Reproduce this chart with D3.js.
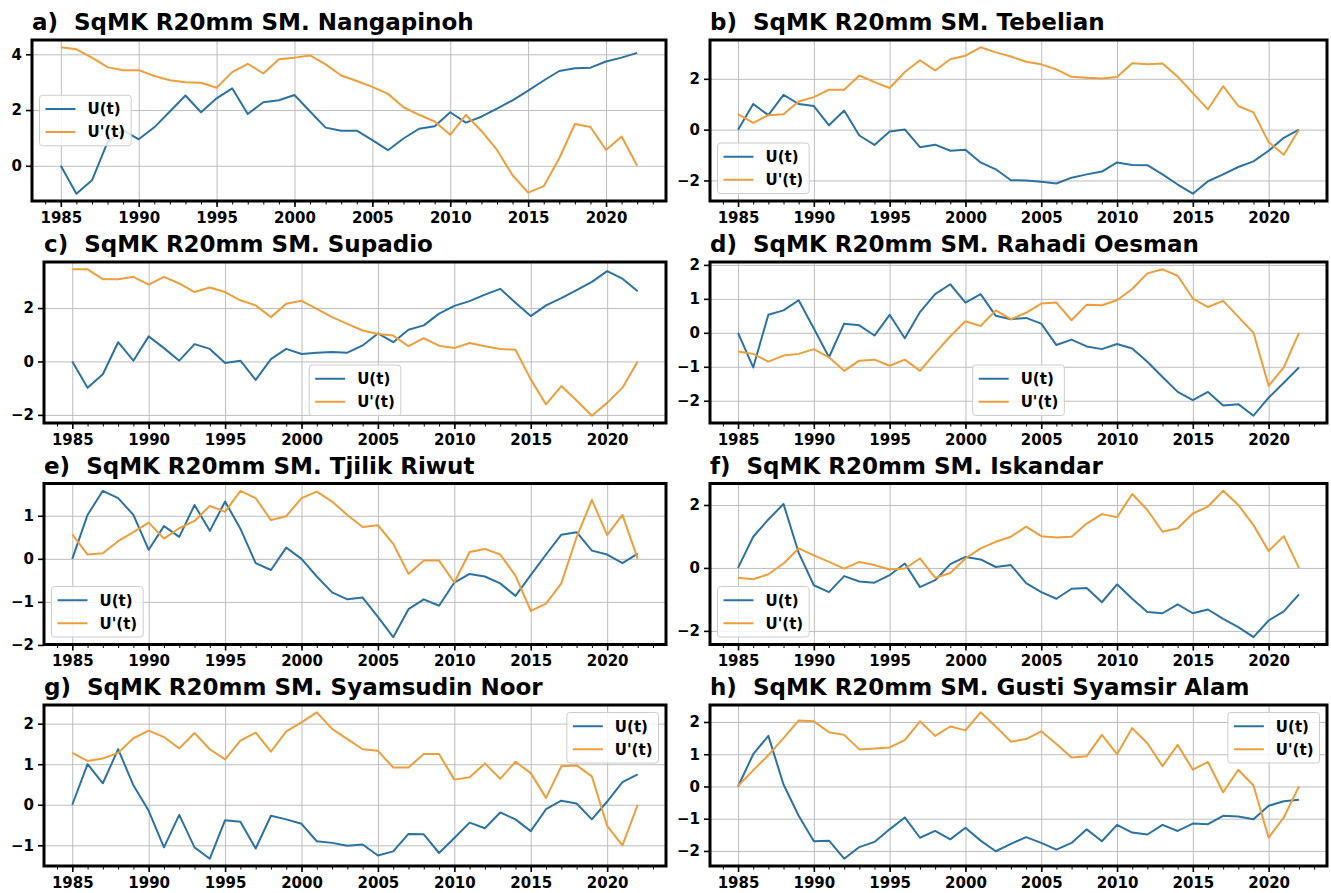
<!DOCTYPE html>
<html>
<head>
<meta charset="utf-8">
<script src="https://cdn.jsdelivr.net/npm/d3@7"></script>
<style>
  body { margin: 0; background: #ffffff; }
  svg { display: block; font-family: "DejaVu Sans", sans-serif; font-weight: bold; }
</style>
</head>
<body>
<svg id="chart" width="1331" height="893"></svg>
<script>
// ---- data -----------------------------------------------------------
const years = [1985, 1986, 1987, 1988, 1989, 1990, 1991, 1992, 1993, 1994,
               1995, 1996, 1997, 1998, 1999, 2000, 2001, 2002, 2003, 2004,
               2005, 2006, 2007, 2008, 2009, 2010, 2011, 2012, 2013, 2014,
               2015, 2016, 2017, 2018, 2019, 2020, 2021, 2022];
const xTickYears = [1985, 1990, 1995, 2000, 2005, 2010, 2015, 2020];

const panelLetters = ["a)", "b)", "c)", "d)", "e)", "f)", "g)", "h)"];
const stationNames = ["Nangapinoh", "Tebelian", "Supadio", "Rahadi Oesman",
                      "Tjilik Riwut", "Iskandar", "Syamsudin Noor", "Gusti Syamsir Alam"];
const seriesLabels = ["U(t)", "U'(t)"];

// forward statistic U(t) and backward statistic U'(t) per station
const uNangapinoh  = [0, -1.0, -0.52, 0.85, 1.28, 0.95, 1.38, 1.95, 2.52, 1.92,
                      2.42, 2.78, 1.86, 2.28, 2.35, 2.54, 1.95, 1.37, 1.26, 1.26,
                      0.92, 0.56, 0.98, 1.33, 1.42, 1.92, 1.55, 1.76, 2.05, 2.35,
                      2.7, 3.06, 3.4, 3.5, 3.52, 3.74, 3.88, 4.05];
const upNangapinoh = [4.25, 4.18, 3.88, 3.54, 3.43, 3.43, 3.22, 3.07, 3.0, 2.98,
                      2.8, 3.36, 3.66, 3.31, 3.82, 3.88, 3.96, 3.64, 3.24, 3.04,
                      2.83, 2.58, 2.1, 1.83, 1.59, 1.11, 1.83, 1.25, 0.57, -0.34,
                      -0.96, -0.73, 0.27, 1.5, 1.39, 0.57, 1.05, 0];

const uTebelian  = [0, 1.01, 0.57, 1.37, 1.01, 0.93, 0.17, 0.75, -0.23, -0.6,
                    -0.07, 0.01, -0.69, -0.59, -0.83, -0.79, -1.29, -1.56, -1.99, -2.0,
                    -2.05, -2.12, -1.89, -1.76, -1.65, -1.29, -1.39, -1.4, -1.76, -2.16,
                    -2.52, -2.03, -1.76, -1.47, -1.25, -0.83, -0.32, 0];
const upTebelian = [0.61, 0.27, 0.57, 0.61, 1.11, 1.28, 1.57, 1.57, 2.13, 1.87,
                    1.64, 2.27, 2.73, 2.33, 2.77, 2.91, 3.24, 3.04, 2.88, 2.67,
                    2.57, 2.37, 2.08, 2.04, 2.01, 2.07, 2.61, 2.57, 2.6, 2.08,
                    1.44, 0.8, 1.71, 0.93, 0.68, -0.49, -0.99, 0];

const uSupadio  = [0, -0.98, -0.48, 0.72, 0.03, 0.94, 0.5, 0.03, 0.65, 0.47,
                   -0.06, 0.03, -0.69, 0.09, 0.47, 0.28, 0.33, 0.35, 0.33, 0.6,
                   1.05, 0.72, 1.19, 1.35, 1.79, 2.08, 2.26, 2.5, 2.72, 2.2,
                   1.7, 2.1, 2.37, 2.67, 2.98, 3.38, 3.1, 2.63];
const upSupadio = [3.45, 3.45, 3.08, 3.08, 3.17, 2.88, 3.17, 2.92, 2.6, 2.77,
                   2.6, 2.29, 2.1, 1.66, 2.16, 2.27, 1.97, 1.66, 1.41, 1.16,
                   1.03, 0.97, 0.57, 0.87, 0.59, 0.5, 0.69, 0.57, 0.47, 0.44,
                   -0.67, -1.61, -0.92, -1.46, -2.03, -1.55, -0.98, 0];

const uRahadi  = [0, -1.02, 0.53, 0.66, 0.96, 0.13, -0.72, 0.27, 0.22, -0.08,
                  0.53, -0.16, 0.61, 1.14, 1.43, 0.89, 1.14, 0.5, 0.4, 0.44,
                  0.27, -0.36, -0.2, -0.4, -0.48, -0.33, -0.46, -0.85, -1.3, -1.74,
                  -1.98, -1.74, -2.14, -2.1, -2.44, -1.91, -1.47, -1.02];
const upRahadi = [-0.55, -0.62, -0.85, -0.67, -0.62, -0.48, -0.72, -1.12, -0.82, -0.79,
                  -0.97, -0.79, -1.12, -0.6, -0.1, 0.34, 0.2, 0.66, 0.4, 0.59,
                  0.86, 0.89, 0.37, 0.83, 0.81, 0.96, 1.29, 1.75, 1.87, 1.68,
                  1.01, 0.76, 0.94, 0.47, 0.0, -1.56, -1.02, 0];

const uTjilik  = [0, 1.02, 1.58, 1.41, 1.02, 0.21, 0.76, 0.51, 1.25, 0.65,
                  1.33, 0.7, -0.1, -0.26, 0.26, 0.0, -0.41, -0.78, -0.94, -0.9,
                  -1.35, -1.82, -1.17, -0.94, -1.09, -0.55, -0.35, -0.41, -0.57, -0.86,
                  -0.38, 0.1, 0.56, 0.62, 0.19, 0.1, -0.1, 0.12];
const upTjilik = [0.57, 0.1, 0.13, 0.41, 0.62, 0.84, 0.47, 0.71, 0.88, 1.23,
                  1.09, 1.58, 1.41, 0.9, 0.99, 1.41, 1.56, 1.33, 1.02, 0.74,
                  0.78, 0.35, -0.35, -0.04, -0.04, -0.55, 0.16, 0.23, 0.1, -0.39,
                  -1.21, -1.04, -0.57, 0.5, 1.37, 0.55, 1.02, 0];

const uIskandar  = [0, 0.99, 1.54, 2.03, 0.48, -0.55, -0.77, -0.26, -0.43, -0.47,
                    -0.23, 0.14, -0.61, -0.39, 0.12, 0.35, 0.27, 0.03, 0.09, -0.48,
                    -0.77, -0.98, -0.66, -0.64, -1.09, -0.52, -0.98, -1.4, -1.44, -1.16,
                    -1.44, -1.32, -1.62, -1.88, -2.2, -1.67, -1.38, -0.84];
const upIskandar = [-0.31, -0.36, -0.2, 0.14, 0.62, 0.4, 0.19, -0.02, 0.19, 0.09,
                    -0.05, -0.02, 0.3, -0.31, -0.16, 0.3, 0.62, 0.83, 0.99, 1.31,
                    1.01, 0.97, 0.99, 1.41, 1.71, 1.61, 2.35, 1.84, 1.15, 1.26,
                    1.73, 1.95, 2.45, 2.0, 1.36, 0.54, 1.01, 0];

const uSyamsudin  = [0, 1.0, 0.53, 1.37, 0.48, -0.15, -1.05, -0.25, -1.05, -1.33,
                     -0.38, -0.42, -1.08, -0.27, -0.36, -0.47, -0.9, -0.94, -1.01, -0.98,
                     -1.25, -1.15, -0.72, -0.73, -1.19, -0.82, -0.44, -0.58, -0.19, -0.36,
                     -0.65, -0.11, 0.1, 0.03, -0.36, 0.08, 0.56, 0.75];
const upSyamsudin = [1.28, 1.08, 1.14, 1.28, 1.64, 1.83, 1.67, 1.39, 1.77, 1.37,
                     1.12, 1.58, 1.78, 1.31, 1.81, 2.03, 2.28, 1.87, 1.62, 1.37,
                     1.33, 0.92, 0.92, 1.25, 1.25, 0.62, 0.68, 1.02, 0.64, 1.06,
                     0.78, 0.17, 0.95, 0.97, 0.7, -0.52, -1.0, 0];

const uGusti  = [0, 1.0, 1.57, 0.06, -0.91, -1.7, -1.68, -2.24, -1.88, -1.72,
                 -1.33, -0.96, -1.59, -1.38, -1.64, -1.28, -1.68, -2.01, -1.78, -1.57,
                 -1.75, -1.96, -1.75, -1.33, -1.7, -1.19, -1.43, -1.49, -1.19, -1.38,
                 -1.15, -1.17, -0.91, -0.93, -1.02, -0.6, -0.46, -0.41];
const upGusti = [0.02, 0.5, 0.97, 1.5, 2.05, 2.02, 1.68, 1.6, 1.15, 1.18,
                 1.21, 1.44, 2.02, 1.57, 1.86, 1.74, 2.3, 1.86, 1.39, 1.47,
                 1.71, 1.32, 0.9, 0.94, 1.6, 1.0, 1.81, 1.34, 0.63, 1.29,
                 0.52, 0.76, -0.18, 0.52, 0.03, -1.59, -0.96, 0];

// y tick values of each panel
const yTicksA = [0, 2, 4];
const yTicksB = [-2, 0, 2];
const yTicksC = [-2, 0, 2];
const yTicksD = [-2, -1, 0, 1, 2];
const yTicksE = [-2, -1, 0, 1];
const yTicksF = [-2, 0, 2];
const yTicksG = [-1, 0, 1, 2];
const yTicksH = [-2, -1, 0, 1, 2];

// ---- layout ---------------------------------------------------------
const colors = { u: "#2c72a0", up: "#eb9f3c" };
const rowTops = [40, 262, 483.5, 705];
const frameH = 161;
const colX = [[44, 666], [710, 1327]];

const panels = [
  { u: uNangapinoh, up: upNangapinoh, ticks: yTicksA, row: 0, col: 0, left: 32, legend: "center left" },
  { u: uTebelian,   up: upTebelian,   ticks: yTicksB, row: 0, col: 1, legend: "lower left" },
  { u: uSupadio,    up: upSupadio,    ticks: yTicksC, row: 1, col: 0, legend: "lower center" },
  { u: uRahadi,     up: upRahadi,     ticks: yTicksD, row: 1, col: 1, legend: "lower center" },
  { u: uTjilik,     up: upTjilik,     ticks: yTicksE, row: 2, col: 0, legend: "lower left" },
  { u: uIskandar,   up: upIskandar,   ticks: yTicksF, row: 2, col: 1, legend: "lower left" },
  { u: uSyamsudin,  up: upSyamsudin,  ticks: yTicksG, row: 3, col: 0, legend: "upper right" },
  { u: uGusti,      up: upGusti,      ticks: yTicksH, row: 3, col: 1, legend: "upper right" }
];

const svg = d3.select("#chart");
const tickFont = 15, titleFont = 23, legendFont = 15;

// 5 % padding on both ends, as in the usual auto-scaled axes
function padded(extent) {
  const span = extent[1] - extent[0];
  return [extent[0] - 0.05 * span, extent[1] + 0.05 * span];
}

panels.forEach((p, i) => {
  const left = p.left !== undefined ? p.left : colX[p.col][0];
  const right = colX[p.col][1];
  const top = rowTops[p.row];
  const bottom = top + frameH;

  const x = d3.scaleLinear().domain(padded(d3.extent(years))).range([left, right]);
  const y = d3.scaleLinear().domain(padded(d3.extent(p.u.concat(p.up)))).range([bottom, top]);
  const yDom = y.domain();
  const yTicks = p.ticks.filter(t => t >= yDom[0] - 0.02 && t <= yDom[1] + 0.02);

  const g = svg.append("g");

  // grid
  g.append("g")
    .attr("transform", `translate(0,${bottom})`)
    .call(d3.axisBottom(x).tickValues(xTickYears).tickSize(-frameH).tickFormat(""))
    .call(a => a.select(".domain").remove())
    .call(a => a.selectAll("line").attr("stroke", "#bdbdbd").attr("stroke-width", 1));
  g.append("g")
    .attr("transform", `translate(${left},0)`)
    .call(d3.axisLeft(y).tickValues(yTicks).tickSize(-(right - left)).tickFormat(""))
    .call(a => a.select(".domain").remove())
    .call(a => a.selectAll("line").attr("stroke", "#bdbdbd").attr("stroke-width", 1));

  // series
  const line = vals => d3.line().x((d, k) => x(years[k])).y(d => y(d))(vals);
  g.append("path").attr("d", line(p.u)).attr("fill", "none")
    .attr("stroke", colors.u).attr("stroke-width", 2).attr("stroke-linejoin", "round");
  g.append("path").attr("d", line(p.up)).attr("fill", "none")
    .attr("stroke", colors.up).attr("stroke-width", 2).attr("stroke-linejoin", "round");

  // minor ticks every year
  g.append("g")
    .attr("transform", `translate(0,${bottom})`)
    .call(d3.axisBottom(x).tickValues(d3.range(Math.ceil(x.domain()[0]), Math.floor(x.domain()[1]) + 1))
      .tickSize(3.5).tickFormat(""))
    .call(a => a.select(".domain").remove())
    .call(a => a.selectAll("line").attr("stroke", "#000").attr("stroke-width", 1));

  // major x axis
  g.append("g")
    .attr("transform", `translate(0,${bottom})`)
    .call(d3.axisBottom(x).tickValues(xTickYears).tickSize(6).tickPadding(5).tickFormat(d3.format("d")))
    .call(a => a.select(".domain").remove())
    .call(a => a.selectAll("line").attr("stroke", "#000").attr("stroke-width", 1.6))
    .call(a => a.selectAll("text").attr("fill", "#000")
      .style("font-family", "DejaVu Sans").style("font-weight", "bold").style("font-size", tickFont + "px"));

  // y axis
  g.append("g")
    .attr("transform", `translate(${left},0)`)
    .call(d3.axisLeft(y).tickValues(yTicks).tickSize(6).tickPadding(4).tickFormat(d3.format("d")))
    .call(a => a.select(".domain").remove())
    .call(a => a.selectAll("line").attr("stroke", "#000").attr("stroke-width", 1.6))
    .call(a => a.selectAll("text").attr("fill", "#000")
      .style("font-family", "DejaVu Sans").style("font-weight", "bold").style("font-size", tickFont + "px"));

  // frame
  g.append("rect").attr("x", left).attr("y", top)
    .attr("width", right - left).attr("height", frameH)
    .attr("fill", "none").attr("stroke", "#000").attr("stroke-width", 3);

  // title
  g.append("text").attr("x", left).attr("y", top - 10)
    .attr("font-size", titleFont).attr("font-weight", "bold").attr("fill", "#000")
    .style("white-space", "pre").attr("xml:space", "preserve")
    .text(`${panelLetters[i]}  SqMK R20mm SM. ${stationNames[i]}`);

  // legend
  const em = legendFont;
  const lg = g.append("g");
  const box = lg.append("rect").attr("rx", 3).attr("ry", 3)
    .attr("fill", "#ffffff").attr("fill-opacity", 0.8)
    .attr("stroke", "#cccccc").attr("stroke-width", 1);
  const rowH = 15.5, pad = 0.4 * em, spacing = 0.5 * em;
  const items = [{ label: seriesLabels[0], color: colors.u }, { label: seriesLabels[1], color: colors.up }];
  let maxW = 0;
  items.forEach((it, k) => {
    const cy = pad + rowH / 2 + k * (rowH + spacing);
    lg.append("line").attr("x1", pad).attr("x2", pad + 2 * em)
      .attr("y1", cy).attr("y2", cy).attr("stroke", it.color).attr("stroke-width", 2);
    const t = lg.append("text").attr("x", pad + 2.8 * em).attr("y", cy)
      .attr("dy", "0.35em").attr("font-size", em).attr("font-weight", "bold").attr("fill", "#000")
      .text(it.label);
    maxW = Math.max(maxW, t.node().getComputedTextLength());
  });
  const w = pad * 2 + 2.8 * em + maxW;
  const h = pad * 2 + rowH * 2 + spacing;
  box.attr("width", w).attr("height", h);
  const gap = 0.5 * em;
  let lx, ly;
  if (p.legend === "center left") { lx = left + gap; ly = top + (frameH - h) / 2; }
  else if (p.legend === "lower left") { lx = left + gap; ly = bottom - gap - h; }
  else if (p.legend === "lower center") { lx = (left + right) / 2 - w / 2; ly = bottom - gap - h; }
  else { lx = right - gap - w; ly = top + gap; }
  lg.attr("transform", `translate(${lx},${ly})`);
});
</script>
</body>
</html>
